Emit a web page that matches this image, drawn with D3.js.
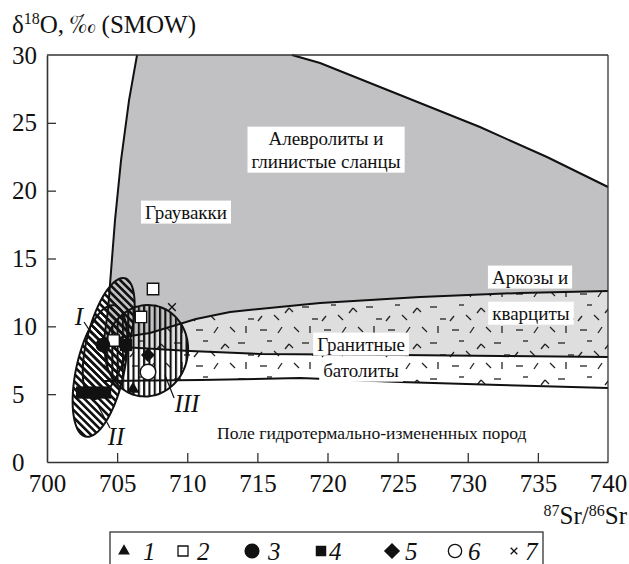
<!DOCTYPE html>
<html>
<head>
<meta charset="utf-8">
<script src="https://cdn.jsdelivr.net/npm/d3@7"></script>
<style>
  html, body { margin: 0; padding: 0; background: #fff; }
  svg { display: block; }
</style>
</head>
<body>
<svg id="chart" width="629" height="564"></svg>
<script>
// Axis ticks
const xTicks = [700, 705, 710, 715, 720, 725, 730, 735, 740];
const yTicks = [0, 5, 10, 15, 20, 25, 30];

// Field boundaries, as [87Sr/86Sr (x1000), δ18O] pairs
const grayLeftEdge = [[706.42, 30], [705.85, 26.68], [705.28, 22.26], [704.85, 17.84], [704.56, 14.0], [704.35, 11.2], [704.06, 8.99]];
const grayUpperEdge = [[717.47, 30], [719.47, 29.41], [725.17, 27.05], [730.87, 24.69], [735.65, 22.48], [740, 20.27]];
const arkoseTopEdge = [[704.06, 8.99], [707.34, 9.51], [710.62, 10.54], [713.05, 11.06], [719.47, 11.72], [726.6, 12.16], [733.73, 12.46], [740, 12.6]];
const arkoseBottomEdge = [[704.06, 8.92], [705.35, 8.48], [710.2, 8.18], [715.19, 7.96], [725.17, 7.89], [732.3, 7.81], [740, 7.74]];
const graniteBottomEdge = [[704.06, 5.97], [710.91, 6.04], [718.04, 6.19], [725.17, 5.9], [732.3, 5.68], [740, 5.45]];

// Fields I, II (hatched) and III (vertical hatch): centre, half-width (Sr), half-height (δ18O), tilt
const fieldI = { cx: 704.4, cy: 9.1, rx: 1.5, ry: 4.6, tilt: 15 };
const fieldII = { cx: 703.78, cy: 6.71, rx: 1.7, ry: 4.95, tilt: 12.4 };
const fieldIII = { cx: 707.1, cy: 8.2, rx: 2.95, ry: 3.38, tilt: 10 };

// Samples by legend group
const group1 = [[706.13, 5.38]];                                   // filled triangle
const group2 = [[704.75, 8.95], [707.56, 12.75], [706.7, 10.69]];   // open square
const group3 = [[703.99, 8.62]];                                   // filled circle
const group4 = [[705.63, 8.62], [702.5, 5.12], [703.28, 5.12], [704.14, 5.12]]; // filled square
const group5 = [[707.2, 7.89]];                                    // filled diamond
const group6 = [[707.2, 6.63]];                                    // open circle
const group7 = [[708.91, 11.42]];                                  // cross
const legendLabels = ["1", "2", "3", "4", "5", "6", "7"];

const SERIF = "'Liberation Serif', 'Times New Roman', Times, serif";
const svg = d3.select("#chart");
const x = d3.scaleLinear().domain([700, 740]).range([47, 608]);
const y = d3.scaleLinear().domain([0, 30]).range([462, 55]);

// ---------- patterns ----------
const defs = svg.append("defs");
const diag = defs.append("pattern").attr("id", "diag").attr("patternUnits", "userSpaceOnUse")
  .attr("width", 5.2).attr("height", 10).attr("patternTransform", "rotate(-45)");
diag.append("rect").attr("x", 0).attr("y", 0).attr("width", 2.6).attr("height", 10).attr("fill", "#111");

const vert = defs.append("pattern").attr("id", "vert").attr("patternUnits", "userSpaceOnUse")
  .attr("width", 5.3).attr("height", 10);
vert.append("rect").attr("x", 0).attr("y", 0).attr("width", 2.1).attr("height", 10).attr("fill", "#111");

const dashTile = defs.append("pattern").attr("id", "dashes").attr("patternUnits", "userSpaceOnUse")
  .attr("width", 64).attr("height", 36);
const strokes = [
  [4, 6, 11, 6], [22, 9, 26, 3], [38, 3, 43, 8], [54, 2, 54, 9],
  [29, 25, 33, 20], [33, 20, 37, 24], [46, 19, 53, 19],
  [2, 33, 6, 28], [18, 27, 23, 32], [56, 31, 62, 31], [11, 17, 16, 17]
];
dashTile.selectAll("line").data(strokes).join("line")
  .attr("x1", d => d[0]).attr("y1", d => d[1]).attr("x2", d => d[2]).attr("y2", d => d[3])
  .attr("stroke", "#222").attr("stroke-width", 1.3);

const line = d3.line().x(d => x(d[0])).y(d => y(d[1]));
const plot = svg.append("g");

// ---------- fields ----------
const grayPoly = grayLeftEdge.concat(arkoseTopEdge.slice(1), [[740, 20.27]], grayUpperEdge.slice().reverse());
plot.append("path").attr("d", line(grayPoly) + "Z").attr("fill", "#c1c1c3");

const arkosePoly = arkoseTopEdge.concat(arkoseBottomEdge.slice().reverse());
plot.append("path").attr("d", line(arkosePoly) + "Z").attr("fill", "#dedede");

const granitePoly = arkoseTopEdge.concat(graniteBottomEdge.slice().reverse());
plot.append("path").attr("d", line(granitePoly) + "Z").attr("fill", "url(#dashes)");

[grayLeftEdge, grayUpperEdge, arkoseTopEdge, arkoseBottomEdge, graniteBottomEdge].forEach(edge => {
  plot.append("path").attr("d", line(edge)).attr("fill", "none")
    .attr("stroke", "#111").attr("stroke-width", 2);
});

function ellipsePath(f) {
  const cx = x(f.cx), cy = y(f.cy);
  const a = x(f.cx + f.rx) - cx, b = cy - y(f.cy + f.ry);
  const t = f.tilt * Math.PI / 180;
  const pts = d3.range(0, 72).map(i => {
    const u = i / 72 * 2 * Math.PI;
    const px = a * Math.cos(u), py = -b * Math.sin(u);
    return [cx + px * Math.cos(t) - py * Math.sin(t), cy + px * Math.sin(t) + py * Math.cos(t)];
  });
  return d3.line().curve(d3.curveCardinalClosed)(pts);
}

[[fieldII, "url(#diag)"], [fieldI, "url(#diag)"], [fieldIII, "url(#vert)"]].forEach(([f, fill]) => {
  plot.append("path").attr("d", ellipsePath(f)).attr("fill", fill)
    .attr("stroke", "#111").attr("stroke-width", 2);
});

// ---------- frame and axes ----------
svg.append("line").attr("x1", 47).attr("x2", 608).attr("y1", 55).attr("y2", 55)
  .attr("stroke", "#333").attr("stroke-width", 1.3);
svg.append("line").attr("x1", 608).attr("x2", 608).attr("y1", 55).attr("y2", 462)
  .attr("stroke", "#333").attr("stroke-width", 1.3);

const xAxis = svg.append("g").attr("transform", "translate(0,462)")
  .call(d3.axisBottom(x).tickValues(xTicks).tickFormat(d3.format("d")).tickSizeInner(-9).tickSizeOuter(0).tickPadding(12));
const yAxis = svg.append("g").attr("transform", "translate(47,0)")
  .call(d3.axisLeft(y).tickValues(yTicks).tickFormat(d3.format("d")).tickSizeInner(-9).tickSizeOuter(0));
[xAxis, yAxis].forEach(g => {
  g.attr("font-family", null).attr("font-size", null);
  g.select(".domain").attr("stroke", "#333").attr("stroke-width", 1.6);
  g.selectAll(".tick line").attr("stroke", "#333").attr("stroke-width", 1.3);
  g.selectAll(".tick text").attr("font-size", 25).attr("fill", "#111");
});
yAxis.selectAll(".tick text").attr("text-anchor", "start").attr("x", 12 - 47).attr("dy", "0.32em");
xAxis.selectAll(".tick").filter(d => d === 700 || d === 740).select("line").remove();
yAxis.selectAll(".tick").filter(d => d === 0 || d === 30).select("line").remove();

// axis titles
const yTitle = svg.append("text").attr("x", 12).attr("y", 33).attr("font-size", 25);
yTitle.append("tspan").text("δ");
yTitle.append("tspan").attr("font-size", 16).attr("dy", -9).text("18");
yTitle.append("tspan").attr("dy", 9).text("O, ");
yTitle.append("tspan").attr("class", "permille").text("‰");
yTitle.append("tspan").text(" (SMOW)");

const xTitle = svg.append("text").attr("x", 627).attr("y", 524).attr("font-size", 25).attr("text-anchor", "end");
xTitle.append("tspan").attr("font-size", 16).attr("dy", -8).text("87");
xTitle.append("tspan").attr("dy", 8).text("Sr/");
xTitle.append("tspan").attr("font-size", 16).attr("dy", -8).text("86");
xTitle.append("tspan").attr("dy", 8).text("Sr");

// ---------- field labels ----------
function boxedLabel(lines, sx, sy, lineGap, size) {
  const g = svg.append("g");
  const rect = g.append("rect").attr("fill", "#fff");
  const t = g.append("text").attr("font-size", size).attr("text-anchor", "middle").style("font-family", SERIF);
  lines.forEach((s, i) => t.append("tspan").attr("x", x(sx)).attr("y", y(sy) + i * lineGap).attr("dy", "0.35em").text(s));
  const bb = t.node().getBBox();
  rect.attr("x", bb.x - 4).attr("y", bb.y - 1).attr("width", bb.width + 8).attr("height", bb.height + 2);
}
boxedLabel(["Алевролиты и", "глинистые сланцы"], 719.89, 23.88, 23, 19);
boxedLabel(["Граувакки"], 709.91, 18.43, 0, 19);
boxedLabel(["Аркозы и"], 734.44, 13.64, 0, 19);
boxedLabel(["кварциты"], 734.5, 10.98, 0, 19);
boxedLabel(["Гранитные"], 722.39, 8.7, 0, 19);
boxedLabel(["батолиты"], 722.39, 6.78, 0, 19);
svg.append("text").attr("x", x(712.12)).attr("y", y(2.14)).attr("dy", "0.35em").attr("font-size", 17.6)
  .text("Поле гидротермально-измененных пород");

// Roman numerals with leaders
const romans = [
  { t: "I", at: [702.28, 10.76], from: [702.64, 10.32], to: [703.21, 9.43] },
  { t: "II", at: [704.92, 1.92], from: [704.49, 2.51], to: [703.57, 4.28] },
  { t: "III", at: [709.98, 4.35], from: [709.06, 4.72], to: [708.41, 6.41] }
];
romans.forEach(r => {
  svg.append("line").attr("x1", x(r.from[0])).attr("y1", y(r.from[1])).attr("x2", x(r.to[0])).attr("y2", y(r.to[1]))
    .attr("stroke", "#111").attr("stroke-width", 1.2);
  svg.append("text").attr("x", x(r.at[0])).attr("y", y(r.at[1])).attr("dy", "0.35em")
    .attr("text-anchor", "middle").attr("font-size", 25).attr("font-style", "italic").text(r.t);
});

// ---------- markers ----------
// the diamond is a square turned by 45 degrees
const sym = {
  1: { type: d3.symbolTriangle, size: 70, fill: "#111", stroke: "none", rot: 0 },
  2: { type: d3.symbolSquare, size: 130, fill: "#fff", stroke: "#111", rot: 0 },
  3: { type: d3.symbolCircle, size: 170, fill: "#111", stroke: "none", rot: 0 },
  4: { type: d3.symbolSquare, size: 150, fill: "#111", stroke: "none", rot: 0 },
  5: { type: d3.symbolSquare, size: 100, fill: "#111", stroke: "none", rot: 45 },
  6: { type: d3.symbolCircle, size: 190, fill: "#fff", stroke: "#111", rot: 0 },
  7: { type: d3.symbolX, size: 40, fill: "none", stroke: "#111", rot: 0 }
};
const groups = [[2, group2], [3, group3], [4, group4], [5, group5], [6, group6], [1, group1], [7, group7]];
groups.forEach(([k, pts]) => {
  const s = sym[k];
  svg.append("g").selectAll("path").data(pts).join("path")
    .attr("transform", d => `translate(${x(d[0])},${y(d[1])}) rotate(${s.rot})`)
    .attr("d", d3.symbol().type(s.type).size(s.size))
    .attr("fill", s.fill).attr("stroke", s.stroke).attr("stroke-width", 1.4);
});

// ---------- legend ----------
svg.append("rect").attr("x", 110).attr("y", 532).attr("width", 433).attr("height", 50)
  .attr("fill", "none").attr("stroke", "#333").attr("stroke-width", 1.3);
const legendSym = {
  1: { type: d3.symbolTriangle, size: 60, fill: "#111", stroke: "none", rot: 0 },
  2: { type: d3.symbolSquare, size: 100, fill: "#fff", stroke: "#111", rot: 0 },
  3: { type: d3.symbolCircle, size: 180, fill: "#111", stroke: "none", rot: 0 },
  4: { type: d3.symbolSquare, size: 110, fill: "#111", stroke: "none", rot: 0 },
  5: { type: d3.symbolSquare, size: 130, fill: "#111", stroke: "none", rot: 45 },
  6: { type: d3.symbolCircle, size: 140, fill: "#fff", stroke: "#111", rot: 0 },
  7: { type: d3.symbolX, size: 30, fill: "none", stroke: "#111", rot: 0 }
};
const legendX = [124, 183, 252, 321, 392, 455, 514];
const legendTextX = [143, 197, 268, 329, 405, 468, 525];
legendLabels.forEach((lab, i) => {
  const s = legendSym[i + 1];
  svg.append("path").attr("transform", `translate(${legendX[i]},551) rotate(${s.rot})`)
    .attr("d", d3.symbol().type(s.type).size(s.size))
    .attr("fill", s.fill).attr("stroke", s.stroke).attr("stroke-width", 1.3);
  svg.append("text").attr("x", legendTextX[i]).attr("y", 551).attr("dy", "0.35em")
    .attr("font-size", 25).attr("font-style", "italic").text(lab);
});

// every text element uses the serif face; the per-mille sign comes from FreeSerif
svg.selectAll("text").style("font-family", SERIF).style("fill", "#111");
svg.selectAll(".permille").style("font-family", "FreeSerif, " + SERIF);
</script>
</body>
</html>
